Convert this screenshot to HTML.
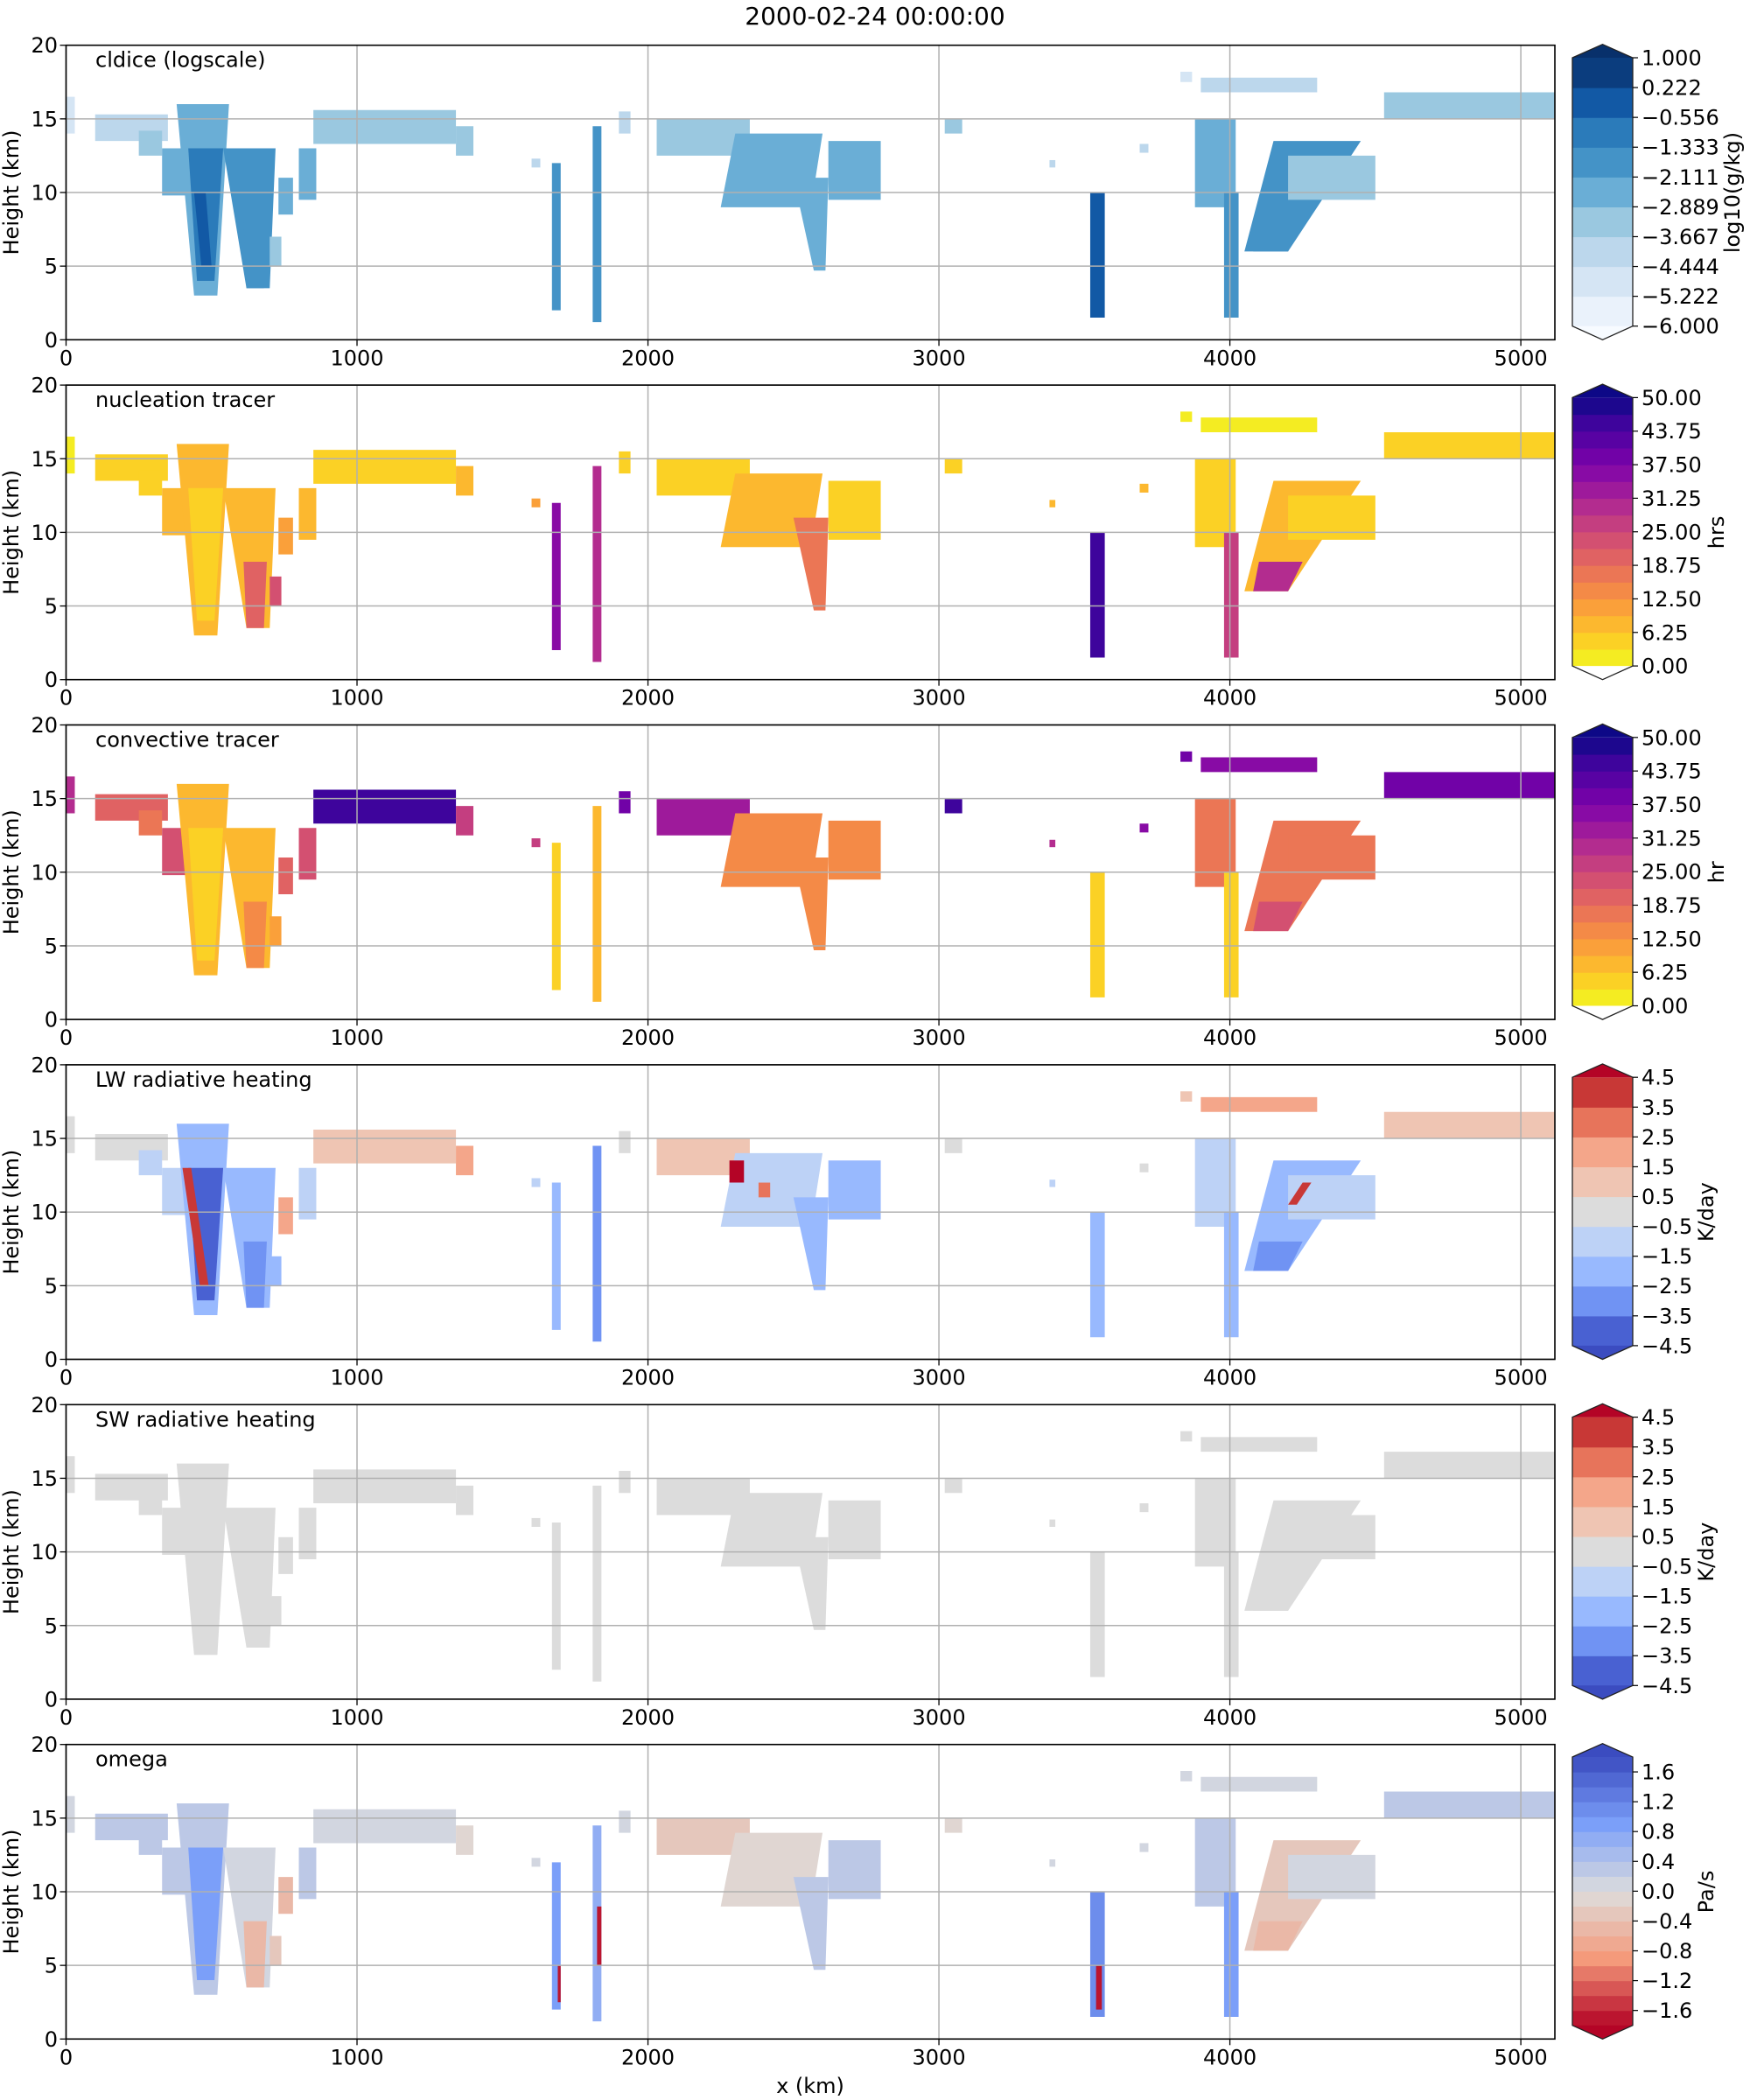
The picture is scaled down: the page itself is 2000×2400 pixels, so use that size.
<!DOCTYPE html>
<html><head><meta charset="utf-8"><title>2000-02-24 00:00:00</title>
<style>
html,body{margin:0;padding:0;background:#fff;}
svg{display:block;font-family:"DejaVu Sans","Liberation Sans",sans-serif;}
</style></head>
<body>
<svg id="fig" width="2000" height="2400" viewBox="0 0 2000 2400" xmlns="http://www.w3.org/2000/svg">
<text x="1000" y="28" font-size="28" text-anchor="middle">2000-02-24 00:00:00</text>
<text x="926" y="2392" font-size="24" text-anchor="middle">x (km)</text>
</svg>
<script>
// ---- data (km coordinates, bottom edge x0..x1 at z0, top edge xt0..xt1 at z1) ----
const featX0  = [0,100,250,330,440,450,460,620,620,700,730,800,850,1340,1600,1670,1690,1810,1825,1900,2030,2250,2570,2620,2280,2380,3020,3380,3690,3520,3540,3830,3900,4530,3880,3980,4050,4200,4200,465,4080];
const featX1  = [30,350,330,420,520,510,490,700,680,740,780,860,1340,1400,1630,1700,1700,1840,1840,1940,2350,2560,2610,2800,2330,2420,3080,3400,3720,3570,3560,3870,4300,5117,4020,4030,4200,4500,4230,500,4200];
const featXt0 = [0,100,250,330,380,420,400,540,610,700,730,800,850,1340,1600,1670,1690,1810,1825,1900,2030,2300,2500,2620,2280,2380,3020,3380,3690,3520,3540,3830,3900,4530,3880,3980,4150,4200,4250,440,4100];
const featXt1 = [30,350,330,420,560,540,430,720,690,740,780,860,1340,1400,1630,1700,1700,1840,1840,1940,2350,2600,2620,2800,2330,2420,3080,3400,3720,3570,3560,3870,4300,5117,4020,4030,4450,4500,4280,480,4250];
const featZ0  = [14,13.5,12.5,9.8,3,4,5,3.5,3.5,5,8.5,9.5,13.3,12.5,11.7,2,2.5,1.2,5,14,12.5,9,4.7,9.5,12,11,14,11.7,12.7,1.5,2,17.5,16.8,15,9,1.5,6,9.5,10.5,5,6];
const featZ1  = [16.5,15.3,14.2,13,16,13,13,13,8,7,11,13,15.6,14.5,12.3,12,5,14.5,9,15.5,15,14,11,13.5,13.5,12,15,12.2,13.3,10,5,18.2,17.8,16.8,15,10,13.5,12.5,12,10,8];
const cldiceVals = [-4.8,-3.8,-3.3,-2.7,-2.3,-1.0,null,-1.9,-1.5,-3.5,-2.3,-2.7,-3.2,-3.3,-3.8,-1.9,null,-1.7,null,-3.8,-2.9,-2.5,-2.6,-2.6,null,null,-3.5,-4,-4.2,-0.3,null,-4.7,-4.0,-3.5,-2.7,-1.7,-2.0,-3.1,null,-0.3,-1.5];
const nucVals    = [3,5,6,7,7,5,null,8,20,22,10,8,4,8,10,35,null,30,null,6,6,7,18,5,null,null,6,8,8,45,null,3,3,4,6,25,9,6,null,null,30];
const convVals   = [30,20,18,22,9,5,null,9,14,12,20,22,45,25,25,5,null,8,null,40,33,15,15,14,null,null,45,30,35,6,null,40,35,40,18,6,17,16,null,null,22];
const lwVals     = [0,0,-1,-1.5,-2.5,-4,4,-2.5,-3,-2,2,-1.5,1,1.5,-1,-2,null,-3,null,0,0.7,-1.5,-2,-2,4.5,3,0,-1,0,-2.5,null,1,1.5,1,-1,-2,-2.5,-1,4,null,-3];
const swVals     = [0,0,0,0,0,0,null,0,0,0,0,0,0,0,0,0,null,0,null,0,0,0,0,0,null,null,0,0,0,0,null,0,0,0,0,0,0,0,null,null,0];
const omegaVals  = [0.1,0.3,0.2,0.2,0.3,0.9,null,0.1,-0.5,-0.3,-0.6,0.2,0.1,-0.2,0.1,0.8,-1.8,0.6,-1.8,0,-0.3,-0.2,0.2,0.2,null,null,-0.2,0.1,0.1,1.2,-1.8,0.1,0.1,0.2,0.2,1.0,-0.3,0.1,null,null,-0.6];
const xTicks = [0,1000,2000,3000,4000,5000];
const yTicks = [0,5,10,15,20];
const cldiceTicks = ["1.000","0.222","\u22120.556","\u22121.333","\u22122.111","\u22122.889","\u22123.667","\u22124.444","\u22125.222","\u22126.000"];
const tracerTicks = ["50.00","43.75","37.50","31.25","25.00","18.75","12.50","6.25","0.00"];
const lwTicks = ["4.5","3.5","2.5","1.5","0.5","\u22120.5","\u22121.5","\u22122.5","\u22123.5","\u22124.5"];
const omegaTicks = ["1.6","1.2","0.8","0.4","0.0","\u22120.4","\u22120.8","\u22121.2","\u22121.6"];

// ---- layout ----
const SVGNS="http://www.w3.org/2000/svg";
const svg=document.getElementById('fig');
const AX_L=75.5, AX_R=1777, XMAX=5117, P0=51.7, PSTEP=388.4, PH=336.6;
const CB_L=1797, CB_R=1866;
function xs(v){return AX_L+(AX_R-AX_L)*v/XMAX;}
function ys(v,top){return top+PH-PH*v/20;}
function mk(tag,attrs,parent){const e=document.createElementNS(SVGNS,tag);for(const k in attrs)e.setAttribute(k,attrs[k]);(parent||svg).appendChild(e);return e;}
function hex(c){return '#'+c.map(v=>Math.round(v).toString(16).padStart(2,'0')).join('');}
function h2r(h){return [parseInt(h.slice(1,3),16),parseInt(h.slice(3,5),16),parseInt(h.slice(5,7),16)];}
function interp(anchors,t){t=Math.max(0,Math.min(1,t));const n=anchors.length-1;const i=Math.min(n-1,Math.floor(t*n));const f=t*n-i;const a=h2r(anchors[i]),b=h2r(anchors[i+1]);return hex(a.map((v,k)=>v+(b[k]-v)*f));}
const plasmaR=['#f0f921','#fcce25','#fca636','#f2844b','#e16462','#cc4778','#b12a90','#8f0da4','#6a00a8','#41049d','#0d0887'];
const coolwarm=['#3b4cc0','#7b9ff9','#dddddd','#f49a7b','#b40426'];
const coolwarmR=coolwarm.slice().reverse();

const blues=['#eaf2fb','#d5e5f4','#bcd7ec','#9ac8e0','#6aaed6','#4493c7','#2b7bba','#1259a5','#0b3d7e'];
const lwCols=['#4961d2','#7093f3','#98b9fe','#bdd2f6','#dcdcdc','#efc5b3','#f4a68a','#e7745b','#c83836'];

const panels=[
 {name:'cldice',title:'cldice (logscale)',vals:cldiceVals,lo:-6,hi:1,n:9,cols:blues,low:'#f7fbff',high:'#08306b',ticks:cldiceTicks,label:'log10(g/kg)',lx:1988},
 {name:'nucleation',title:'nucleation tracer',vals:nucVals,lo:0,hi:50,n:16,anch:plasmaR,low:null,high:'#0d0887',ticks:tracerTicks,label:'hrs',lx:1970},
 {name:'convective',title:'convective tracer',vals:convVals,lo:0,hi:50,n:16,anch:plasmaR,low:null,high:'#0d0887',ticks:tracerTicks,label:'hr',lx:1970},
 {name:'lw-heating',title:'LW radiative heating',vals:lwVals,lo:-4.5,hi:4.5,n:9,cols:lwCols,low:'#3b4cc0',high:'#b40426',ticks:lwTicks,label:'K/day',lx:1958},
 {name:'sw-heating',title:'SW radiative heating',vals:swVals,lo:-4.5,hi:4.5,n:9,cols:lwCols,low:'#3b4cc0',high:'#b40426',ticks:lwTicks,label:'K/day',lx:1958},
 {name:'omega',title:'omega',vals:omegaVals,lo:-1.8,hi:1.8,n:18,anch:coolwarmR,low:'#b40426',high:'#3b4cc0',ticks:omegaTicks,tickVals:[1.6,1.2,0.8,0.4,0,-0.4,-0.8,-1.2,-1.6],label:'Pa/s',lx:1958}
];
function binColor(p,i){ if(p.cols) return p.cols[i]; return interp(p.anch,(i+0.5)/p.n); }
function colorFor(p,v){
  if(v<p.lo) return p.low||binColor(p,0);
  if(v>=p.hi) return p.high;
  const i=Math.min(p.n-1,Math.floor((v-p.lo)/(p.hi-p.lo)*p.n));
  return binColor(p,i);
}

panels.forEach((p,pi)=>{
  const top=P0+PSTEP*pi, bot=top+PH;
  const g=mk('g',{});
  
  
  const clipId='clip'+pi;
  const cp=mk('clipPath',{id:clipId},g); mk('rect',{x:AX_L,y:top,width:AX_R-AX_L,height:PH},cp);
  const dg=mk('g',{'clip-path':'url(#'+clipId+')'},g);
  
  
  p.vals.forEach((v,i)=>{
    if(v===null||v===undefined) return;
    const pts=[[xs(featX0[i]),ys(featZ0[i],top)],[xs(featX1[i]),ys(featZ0[i],top)],[xs(featXt1[i]),ys(featZ1[i],top)],[xs(featXt0[i]),ys(featZ1[i],top)]];
    const poly=mk('polygon',{points:pts.map(q=>q.join(',')).join(' '),fill:colorFor(p,v)},dg);
    
    
  });
  xTicks.forEach(t=>{const l=mk('line',{x1:xs(t),x2:xs(t),y1:top,y2:bot,stroke:'#b0b0b0','stroke-width':1.5},g);
    
    });
  yTicks.forEach(t=>{const l=mk('line',{x1:AX_L,x2:AX_R,y1:ys(t,top),y2:ys(t,top),stroke:'#b0b0b0','stroke-width':1.5},g);
    
    });
  const fr=mk('rect',{x:AX_L,y:top,width:AX_R-AX_L,height:PH,fill:'none',stroke:'#000','stroke-width':1.6},g);
  
  
  xTicks.forEach(t=>{mk('line',{x1:xs(t),x2:xs(t),y1:bot,y2:bot+7,stroke:'#000','stroke-width':1.3},g);
    const tx=mk('text',{x:xs(t),y:bot+29,'font-size':24,'text-anchor':'middle'},g);tx.textContent=t;
    
    });
  yTicks.forEach(t=>{mk('line',{x1:AX_L-7,x2:AX_L,y1:ys(t,top),y2:ys(t,top),stroke:'#000','stroke-width':1.3},g);
    const tx=mk('text',{x:66,y:ys(t,top)+8.5,'font-size':24,'text-anchor':'end'},g);tx.textContent=t;
    
    });
  const yl=mk('text',{x:0,y:0,'font-size':24,'text-anchor':'middle',transform:`translate(21,${top+PH/2}) rotate(-90)`},g);
  yl.textContent='Height (km)';
  
  
  const tt=mk('text',{x:109,y:top+25,'font-size':24},g); tt.textContent=p.title;
  
  
  const cb=mk('g',{},g);
  
  
  const rT=top+14.3, rB=top+321, tipT=top-1, tipB=top+336.6, mid=(CB_L+CB_R)/2;
  const bh=(rB-rT)/p.n;
  for(let i=0;i<p.n;i++){mk('rect',{x:CB_L,y:rB-(i+1)*bh,width:CB_R-CB_L,height:bh+0.6,fill:binColor(p,i)},cb);}
  mk('polygon',{points:`${CB_L},${rT} ${mid},${tipT} ${CB_R},${rT}`,fill:p.high},cb);
  mk('polygon',{points:`${CB_L},${rB} ${mid},${tipB} ${CB_R},${rB}`,fill:p.low||'#ffffff'},cb);
  mk('polygon',{points:`${CB_L},${rT} ${mid},${tipT} ${CB_R},${rT} ${CB_R},${rB} ${mid},${tipB} ${CB_L},${rB}`,fill:'none',stroke:'#222','stroke-width':1.3},cb);
  p.ticks.forEach((lab,k)=>{
    let y;
    if(p.tickVals) y=rB-(p.tickVals[k]-p.lo)/(p.hi-p.lo)*(rB-rT);
    else y=rT+k*(rB-rT)/(p.ticks.length-1);
    mk('line',{x1:CB_R,x2:CB_R+6,y1:y,y2:y,stroke:'#000','stroke-width':1.2},cb);
    const tx=mk('text',{x:CB_R+10,y:y+8.5,'font-size':24},cb); tx.textContent=lab;
    
    
  });
  const cl=mk('text',{x:0,y:0,'font-size':24,'text-anchor':'middle',transform:`translate(${p.lx},${top+PH/2}) rotate(-90)`},cb);
  cl.textContent=p.label;
  
  
});
</script>
</body></html>
